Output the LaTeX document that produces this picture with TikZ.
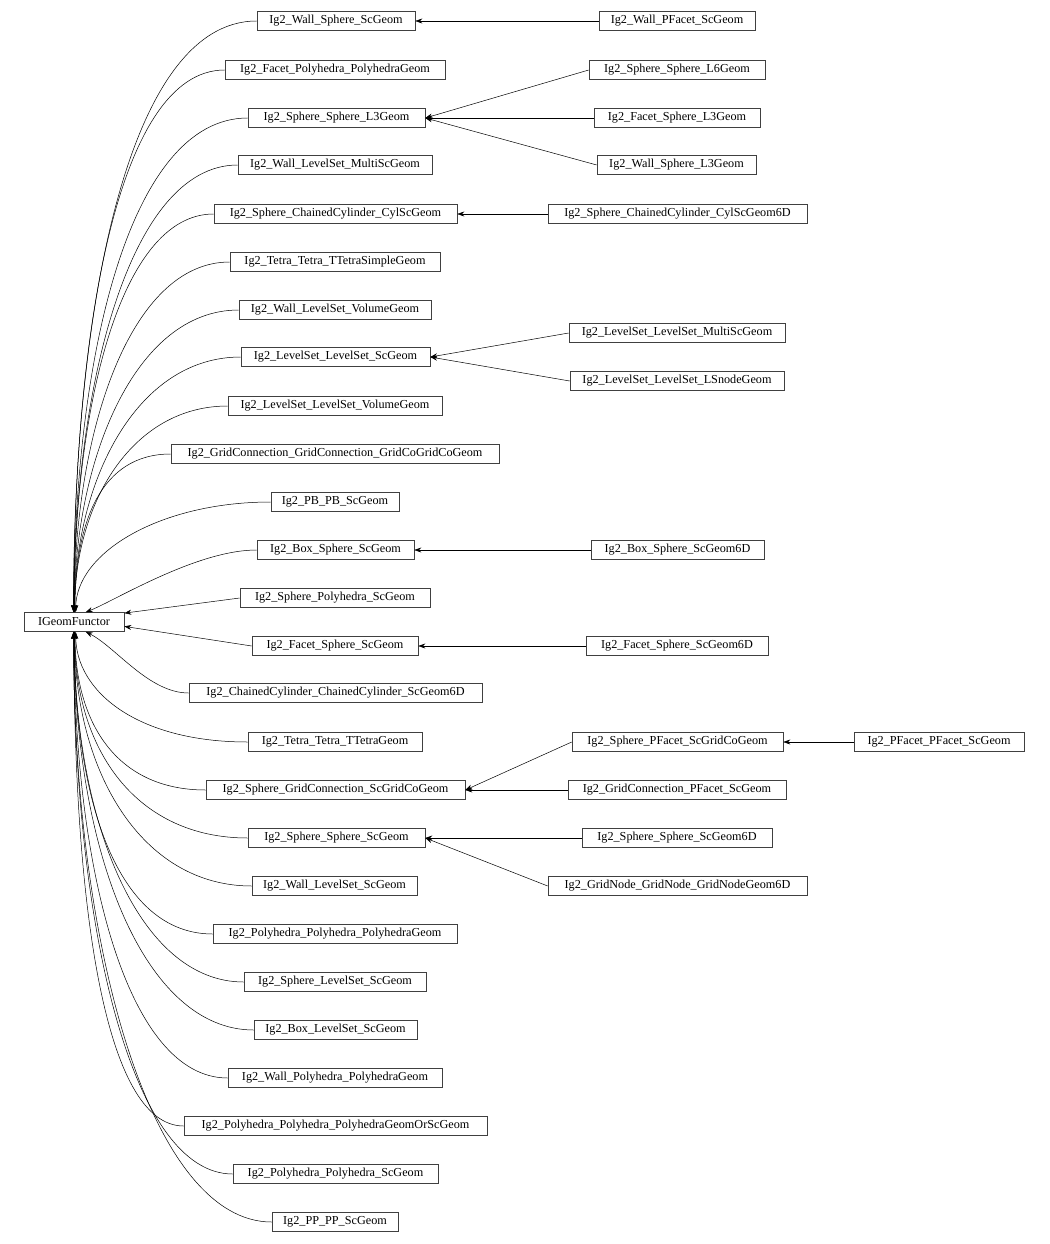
\documentclass[tikz,border=0pt]{standalone}
\usepackage{fontspec}
\setmainfont{Liberation Serif}
\usetikzlibrary{arrows.meta}
\begin{document}
\begin{tikzpicture}[x=1pt,y=-1pt,
  box/.style={draw=black!75,line width=0.6pt,minimum height=19pt,inner sep=0pt,font=\fontsize{12.2}{14}\selectfont},
  edge/.style={draw=black,line width=0.5pt,-{Stealth[length=7pt,width=5pt]}}]
\useasboundingbox (0,0) rectangle (1049,1244);
\newcommand{\bx}[5]{\node[box,minimum width={#3-#2}] (#1) at ({(#2+#3)/2},#4) {#5};}
\bx{ig}{24}{124}{622}{IGeomFunctor}
\bx{a1}{257}{415}{21}{Ig2\_Wall\_Sphere\_ScGeom}
\bx{a2}{225}{445}{70}{Ig2\_Facet\_Polyhedra\_PolyhedraGeom}
\bx{a3}{248}{425}{118}{Ig2\_Sphere\_Sphere\_L3Geom}
\bx{a4}{238}{432}{165}{Ig2\_Wall\_LevelSet\_MultiScGeom}
\bx{a5}{214}{457}{214}{Ig2\_Sphere\_ChainedCylinder\_CylScGeom}
\bx{a6}{230}{440}{262}{Ig2\_Tetra\_Tetra\_TTetraSimpleGeom}
\bx{a7}{239}{431}{310}{Ig2\_Wall\_LevelSet\_VolumeGeom}
\bx{a8}{241}{430}{357}{Ig2\_LevelSet\_LevelSet\_ScGeom}
\bx{a9}{228}{442}{406}{Ig2\_LevelSet\_LevelSet\_VolumeGeom}
\bx{a10}{171}{499}{454}{Ig2\_GridConnection\_GridConnection\_GridCoGridCoGeom}
\bx{a11}{271}{399}{502}{Ig2\_PB\_PB\_ScGeom}
\bx{a12}{257}{414}{550}{Ig2\_Box\_Sphere\_ScGeom}
\bx{a13}{240}{430}{598}{Ig2\_Sphere\_Polyhedra\_ScGeom}
\bx{a14}{252}{418}{646}{Ig2\_Facet\_Sphere\_ScGeom}
\bx{a15}{189}{482}{693}{Ig2\_ChainedCylinder\_ChainedCylinder\_ScGeom6D}
\bx{a16}{248}{422}{742}{Ig2\_Tetra\_Tetra\_TTetraGeom}
\bx{a17}{206}{465}{790}{Ig2\_Sphere\_GridConnection\_ScGridCoGeom}
\bx{a18}{248}{425}{838}{Ig2\_Sphere\_Sphere\_ScGeom}
\bx{a19}{252}{417}{886}{Ig2\_Wall\_LevelSet\_ScGeom}
\bx{a20}{213}{457}{934}{Ig2\_Polyhedra\_Polyhedra\_PolyhedraGeom}
\bx{a21}{244}{426}{982}{Ig2\_Sphere\_LevelSet\_ScGeom}
\bx{a22}{254}{417}{1030}{Ig2\_Box\_LevelSet\_ScGeom}
\bx{a23}{228}{442}{1078}{Ig2\_Wall\_Polyhedra\_PolyhedraGeom}
\bx{a24}{184}{487}{1126}{Ig2\_Polyhedra\_Polyhedra\_PolyhedraGeomOrScGeom}
\bx{a25}{233}{438}{1174}{Ig2\_Polyhedra\_Polyhedra\_ScGeom}
\bx{a26}{272}{398}{1222}{Ig2\_PP\_PP\_ScGeom}
\bx{b1}{599}{755}{21}{Ig2\_Wall\_PFacet\_ScGeom}
\bx{b2}{589}{765}{70}{Ig2\_Sphere\_Sphere\_L6Geom}
\bx{b3}{594}{760}{118}{Ig2\_Facet\_Sphere\_L3Geom}
\bx{b4}{597}{756}{165}{Ig2\_Wall\_Sphere\_L3Geom}
\bx{b5}{548}{807}{214}{Ig2\_Sphere\_ChainedCylinder\_CylScGeom6D}
\bx{b6}{569}{785}{333}{Ig2\_LevelSet\_LevelSet\_MultiScGeom}
\bx{b7}{570}{784}{381}{Ig2\_LevelSet\_LevelSet\_LSnodeGeom}
\bx{b8}{591}{764}{550}{Ig2\_Box\_Sphere\_ScGeom6D}
\bx{b9}{586}{768}{646}{Ig2\_Facet\_Sphere\_ScGeom6D}
\bx{b10}{572}{783}{742}{Ig2\_Sphere\_PFacet\_ScGridCoGeom}
\bx{b11}{568}{786}{790}{Ig2\_GridConnection\_PFacet\_ScGeom}
\bx{b12}{582}{772}{838}{Ig2\_Sphere\_Sphere\_ScGeom6D}
\bx{b13}{548}{807}{886}{Ig2\_GridNode\_GridNode\_GridNodeGeom6D}
\bx{c1}{854}{1024}{742}{Ig2\_PFacet\_PFacet\_ScGeom}
% upper curves: node/anchor/horizontal ctrl/vertical ctrl
\foreach \n/\a/\c/\v in {a1/93/130/300,a2/92/110/270,a3/91/120/250,a4/91/110/220,a5/90/95/200,a6/89/100/180,a7/88/105/150,a8/87/105/130,a9/86/95/110,a10/84/70/90,a11/80/110/60}
  \draw[edge] (\n.west) .. controls +(-\c,0) and +(0,-\v) .. (ig.\a);
\draw[edge] (a12.west) .. controls +(-60,0) and +(30,-12) .. (ig.40);
\draw[edge] (a13.west) -- (ig.10);
\draw[edge] (a14.west) -- (ig.-5);
\draw[edge] (a15.west) .. controls +(-40,0) and +(30,15) .. (ig.-40);
\foreach \n/\a/\c/\v in {a16/-80/110/60,a17/-84/90/90,a18/-86/110/120,a19/-87/110/140,a20/-88/95/170,a21/-89/105/190,a22/-89/110/220,a23/-90/100/240,a24/-91/80/270,a25/-92/100/300,a26/-93/120/320}
  \draw[edge] (\n.west) .. controls +(-\c,0) and +(0,\v) .. (ig.\a);
% right edges
\draw[edge] (b1.west) -- (a1.east);
\draw[edge] (b2.west) -- (a3.east);
\draw[edge] (b3.west) -- (a3.east);
\draw[edge] (b4.west) -- (a3.east);
\draw[edge] (b5.west) -- (a5.east);
\draw[edge] (b6.west) -- (a8.east);
\draw[edge] (b7.west) -- (a8.east);
\draw[edge] (b8.west) -- (a12.east);
\draw[edge] (b9.west) -- (a14.east);
\draw[edge] (b10.west) -- (a17.east);
\draw[edge] (b11.west) -- (a17.east);
\draw[edge] (b12.west) -- (a18.east);
\draw[edge] (b13.west) -- (a18.east);
\draw[edge] (c1.west) -- (b10.east);
\end{tikzpicture}
\end{document}
